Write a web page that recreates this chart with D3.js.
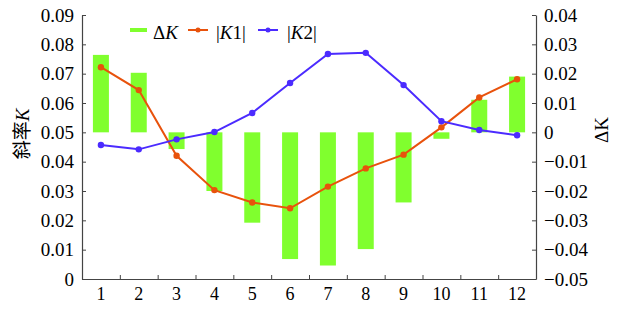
<!DOCTYPE html>
<html>
<head>
<meta charset="utf-8">
<script src="https://cdn.jsdelivr.net/npm/d3@7"></script>
<style>
  body { margin: 0; background: #fff; }
</style>
</head>
<body>
<svg id="chart"></svg>
<script>
const months = [1, 2, 3, 4, 5, 6, 7, 8, 9, 10, 11, 12];
const k1 = [0.0722, 0.0644, 0.0420, 0.0303, 0.0261, 0.0241, 0.0315, 0.0377, 0.0424, 0.0517, 0.0619, 0.0681];
const k2 = [0.0457, 0.0442, 0.0476, 0.0501, 0.0566, 0.0668, 0.0767, 0.0771, 0.0661, 0.0538, 0.0508, 0.0490];
const deltaK = [0.0264, 0.0203, -0.0057, -0.0200, -0.0308, -0.0432, -0.0454, -0.0398, -0.0239, -0.0022, 0.0111, 0.0190];
const leftTicks = [0, 0.01, 0.02, 0.03, 0.04, 0.05, 0.06, 0.07, 0.08, 0.09];
const rightTicks = [-0.05, -0.04, -0.03, -0.02, -0.01, 0, 0.01, 0.02, 0.03, 0.04];

const width = 633, height = 316;
const margin = {left: 82, right: 97, top: 15, bottom: 37};
const x0 = margin.left, x1 = width - margin.right;
const yTop = margin.top, yBot = height - margin.bottom;
const serif = "'Liberation Serif', 'Times New Roman', Times, serif";

const svg = d3.select("#chart").attr("width", width).attr("height", height)
  .style("font-family", serif);

const x = d3.scaleBand().domain(months).range([x0, x1]).padding(0);
const yL = d3.scaleLinear().domain([0, 0.09]).range([yBot, yTop]);
const yR = d3.scaleLinear().domain([-0.05, 0.04]).range([yBot, yTop]);

const green = "#80ff2e", orange = "#e8520c", blue = "#4b2bff";
const axisColor = "#444";

// barras do deltaK (eixo direito)
const barW = 16;
svg.append("g").selectAll("rect")
  .data(deltaK)
  .join("rect")
  .attr("x", (d, i) => x(months[i]) + x.bandwidth() / 2 - barW / 2)
  .attr("width", barW)
  .attr("y", d => Math.min(yR(d), yR(0)))
  .attr("height", d => Math.abs(yR(d) - yR(0)))
  .attr("fill", green);

// linhas |K1| e |K2|
const drawLine = (vals, color) => {
  const line = d3.line()
    .x((d, i) => x(months[i]) + x.bandwidth() / 2)
    .y(d => yL(d));
  svg.append("path").datum(vals)
    .attr("fill", "none").attr("stroke", color).attr("stroke-width", 2)
    .attr("d", line);
  svg.append("g").selectAll("circle").data(vals).join("circle")
    .attr("cx", (d, i) => x(months[i]) + x.bandwidth() / 2)
    .attr("cy", d => yL(d))
    .attr("r", 3.2)
    .attr("fill", color);
};
drawLine(k1, orange);
drawLine(k2, blue);

// eixos
const styleAxis = g => {
  g.attr("font-family", null).style("font-family", serif);
  g.selectAll(".domain").attr("stroke", axisColor).attr("stroke-width", 1.2);
  g.selectAll(".tick line").attr("stroke", axisColor);
  g.selectAll("text").style("font-family", serif).style("font-size", "19px").attr("fill", "#000");
};

svg.append("g")
  .attr("transform", `translate(${x0},0)`)
  .call(d3.axisLeft(yL).tickValues(leftTicks).tickSizeInner(-4).tickSizeOuter(0)
    .tickPadding(8).tickFormat(d => d === 0 ? "0" : d3.format(".2f")(d)))
  .call(styleAxis);

svg.append("g")
  .attr("transform", `translate(${x1},0)`)
  .call(d3.axisRight(yR).tickValues(rightTicks).tickSizeInner(-4).tickSizeOuter(0)
    .tickPadding(8).tickFormat(d => d === 0 ? "0" : d3.format(".2f")(d).replace("-", "\u2212")))
  .call(styleAxis);

// eixo X: rótulos no centro, ticks internos nas divisões
const xb = d3.scaleLinear().domain([0, 12]).range([x0, x1]);
svg.append("g")
  .attr("transform", `translate(0,${yBot})`)
  .call(d3.axisBottom(xb).tickValues(d3.range(1, 12)).tickSizeInner(-4).tickSizeOuter(0).tickFormat(""))
  .call(styleAxis);
svg.append("g")
  .attr("transform", `translate(0,${yBot})`)
  .call(d3.axisBottom(x).tickSize(0).tickPadding(8))
  .call(g => g.select(".domain").remove())
  .call(styleAxis)
  .call(g => g.selectAll("text").style("font-size", "18px"));

// títulos dos eixos
svg.append("text")
  .attr("transform", `translate(29,134) rotate(-90)`)
  .attr("text-anchor", "middle")
  .style("font-size", "19px")
  .html('<tspan style="font-family:\'Noto Sans CJK SC\'">斜率</tspan><tspan font-style="italic">K</tspan>');

svg.append("text")
  .attr("transform", `translate(608,130) rotate(-90)`)
  .attr("text-anchor", "middle")
  .style("font-size", "19px")
  .text("ΔK");

// legenda
const legend = svg.append("g");
const ly = 30;
legend.append("rect").attr("x", 130).attr("y", ly - 2).attr("width", 17).attr("height", 4).attr("fill", green);
legend.append("text").attr("x", 153).attr("y", ly + 9).style("font-size", "19px")
  .html('Δ<tspan font-style="italic">K</tspan>');

const legItems = [
  {x: 188, color: orange, label: "1", tx: 216},
  {x: 258, color: blue, label: "2", tx: 287}
];
legItems.forEach(it => {
  legend.append("line").attr("x1", it.x).attr("x2", it.x + 20).attr("y1", ly).attr("y2", ly)
    .attr("stroke", it.color).attr("stroke-width", 2);
  legend.append("circle").attr("cx", it.x + 10).attr("cy", ly).attr("r", 2.5).attr("fill", it.color);
  legend.append("text").attr("x", it.tx).attr("y", ly + 9).style("font-size", "19px")
    .html(`|<tspan font-style="italic">K</tspan>${it.label}|`);
});
</script>
</body>
</html>
